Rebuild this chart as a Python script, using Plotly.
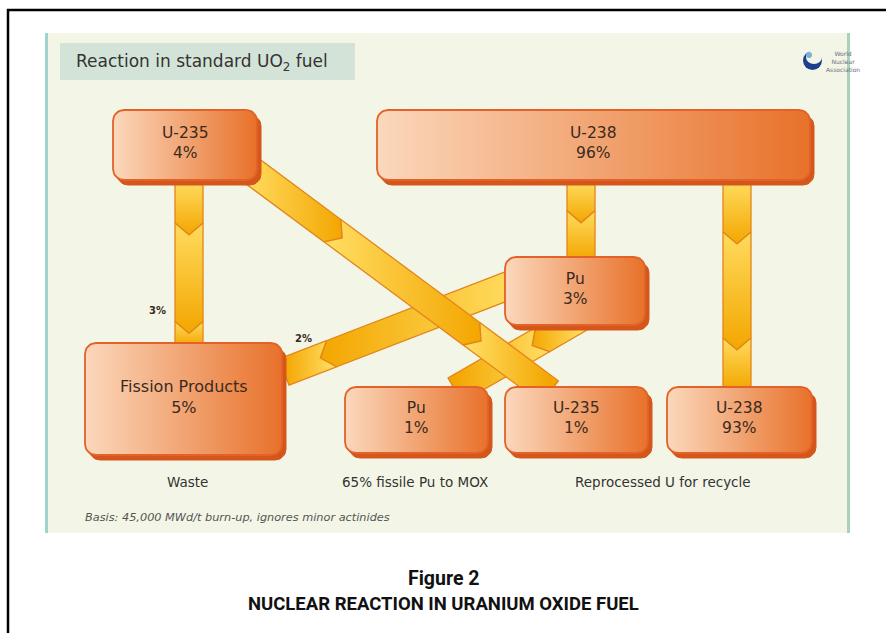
import numpy as np
import plotly.graph_objects as go

# ---------------- data ----------------
node_names = ["U-235", "U-238", "Pu", "Fission Products", "Pu", "U-235", "U-238"]
node_pct = [4, 96, 3, 5, 1, 1, 93]
flow_source = [0, 1, 1, 2, 2, 0]
flow_target = [3, 2, 6, 3, 4, 5]
flow_label = ["3%", "", "", "2%", "", ""]
group_labels = ["Waste", "65% fissile Pu to MOX", "Reprocessed U for recycle"]
title_text = "Reaction in standard UO<sub>2</sub> fuel"
note_text = "Basis: 45,000 MWd/t burn-up, ignores minor actinides"
caption_lines = ["Figure 2", "NUCLEAR REACTION IN URANIUM OXIDE FUEL"]
logo_text = "World<br>Nuclear<br>Association"

# ---------------- layout geometry (pixels) ----------------
W, H = 886, 633
box_rects = [(113, 110, 257, 180), (377, 110, 810, 180), (505, 257, 645, 325),
             (85, 343, 282, 455), (345, 387, 488, 453), (505, 387, 648, 453),
             (667, 387, 812, 453)]
box_font = [15.5, 15.5, 15.5, 16, 15.5, 15.5, 15.5]
flow_paths = [((189, 182), (189, 346)), ((581, 182), (581, 260)), ((737, 182), (737, 390)),
              ((510, 285), (284, 372)), ((580, 318), (455, 390)), ((248, 168), (550, 392))]
flow_chevrons = [[0.25, 0.85], [0.37], [0.24, 0.75], [0.79], [0.30], [0.28, 0.74]]
flow_label_pos = [(157, 310), None, None, (303, 338), None, None]
group_label_x = [187, 415, 663]
group_label_y = 482

BAND_W = 14
TIP = 12
LIGHT_Y, DEEP_Y = "#ffdb5e", "#f3a600"
BAND_EDGE = "#e3861a"
BOX_L, BOX_R = "#fbd8bc", "#e8712a"
BOX_EDGE, BOX_SHADOW = "#e2622a", "#d5561b"
FONT = "DejaVu Sans, Verdana, sans-serif"

fig = go.Figure()


def rrect(x0, y0, x1, y1, r, n=9):
    xs, ys = [], []
    corners = [(x1 - r, y0 + r, -90, 0), (x1 - r, y1 - r, 0, 90),
               (x0 + r, y1 - r, 90, 180), (x0 + r, y0 + r, 180, 270)]
    for cx, cy, a0, a1 in corners:
        t = np.radians(np.linspace(a0, a1, n))
        xs += list(cx + r * np.cos(t))
        ys += list(cy + r * np.sin(t))
    xs.append(xs[0]); ys.append(ys[0])
    return xs, ys


# ---- bands (flows) ----
for (p0, p1), chev in zip(flow_paths, flow_chevrons):
    p0 = np.array(p0, float); p1 = np.array(p1, float)
    L = np.linalg.norm(p1 - p0)
    u = (p1 - p0) / L
    nrm = np.array([-u[1], u[0]])
    P = lambda s, off: p0 + u * s + nrm * off
    cuts = [0.0] + [c * L for c in chev] + [L]
    for i in range(len(cuts) - 1):
        s0, s1 = cuts[i], cuts[i + 1]
        notch = i > 0
        tip = i < len(cuts) - 2
        pts = [P(s0, BAND_W), P(s0 + TIP, 0) if notch else P(s0, 0), P(s0, -BAND_W),
               P(s1, -BAND_W), P(s1 + TIP, 0) if tip else P(s1, 0), P(s1, BAND_W)]
        pts.append(pts[0])
        xs = [p[0] for p in pts]; ys = [p[1] for p in pts]
        a, b = P(s0, 0), P(s1 + (TIP if tip else 0), 0)
        if abs(u[0]) > abs(u[1]):
            gtype, st, sp = "horizontal", a[0], b[0]
        else:
            gtype, st, sp = "vertical", a[1], b[1]
        cs = [[0, LIGHT_Y], [1, DEEP_Y]]
        if st > sp:
            st, sp = sp, st
            cs = [[0, DEEP_Y], [1, LIGHT_Y]]
        fig.add_trace(go.Scatter(x=xs, y=ys, mode="lines", fill="toself",
                                 fillgradient=dict(type=gtype, colorscale=cs, start=st, stop=sp),
                                 line=dict(color=BAND_EDGE, width=1.3),
                                 hoverinfo="skip", showlegend=False))

# ---- boxes ----
for (x0, y0, x1, y1) in box_rects:
    sx, sy = rrect(x0 + 4, y0 + 5, x1 + 4, y1 + 5, 11)
    fig.add_trace(go.Scatter(x=sx, y=sy, mode="lines", fill="toself", fillcolor=BOX_SHADOW,
                             line=dict(color=BOX_SHADOW, width=1), hoverinfo="skip", showlegend=False))
    bx, by = rrect(x0, y0, x1, y1, 11)
    fig.add_trace(go.Scatter(x=bx, y=by, mode="lines", fill="toself",
                             fillgradient=dict(type="horizontal", colorscale=[[0, BOX_L], [1, BOX_R]]),
                             line=dict(color=BOX_EDGE, width=1.8), hoverinfo="skip", showlegend=False))

annotations = []
for name, pct, (x0, y0, x1, y1), fs in zip(node_names, node_pct, box_rects, box_font):
    annotations.append(dict(x=(x0 + x1) / 2, y=(y0 + y1) / 2 - 2, text=f"{name}<br>{pct}%",
                            showarrow=False, font=dict(family=FONT, size=fs, color="#3a2a1e"),
                            xanchor="center", yanchor="middle"))
for lab, pos in zip(flow_label, flow_label_pos):
    if lab and pos:
        annotations.append(dict(x=pos[0], y=pos[1], text=f"<b>{lab}</b>", showarrow=False,
                                font=dict(family=FONT, size=10, color="#3a2a1e")))
for lab, gx in zip(group_labels, group_label_x):
    annotations.append(dict(x=gx, y=group_label_y, text=lab, showarrow=False,
                            font=dict(family=FONT, size=13.5, color="#333333")))
annotations.append(dict(x=83, y=517, text=f"<i>{note_text}</i>", showarrow=False, xanchor="left",
                        font=dict(family=FONT, size=11.3, color="#555555")))
annotations.append(dict(x=74, y=62, text=title_text, showarrow=False, xanchor="left",
                        font=dict(family=FONT, size=17, color="#333333")))
annotations.append(dict(x=824, y=61, text=logo_text, showarrow=False, xanchor="left",
                        font=dict(family=FONT, size=6, color="#6a7080")))
cap_font = "Roboto, Lato, sans-serif"
annotations.append(dict(x=443, y=578, text=f"<b>{caption_lines[0]}</b>", showarrow=False,
                        font=dict(family=cap_font, size=19.5, color="#111111")))
annotations.append(dict(x=443, y=604, text=f"<b>{caption_lines[1]}</b>", showarrow=False,
                        font=dict(family=cap_font, size=18.5, color="#111111")))

shapes = [
    dict(type="rect", x0=45, y0=33, x1=850, y1=533, fillcolor="#f3f6e6", line=dict(width=0), layer="below"),
    dict(type="rect", x0=45, y0=33, x1=48, y1=533, fillcolor="#9fd3cc", line=dict(width=0), layer="below"),
    dict(type="rect", x0=847, y0=33, x1=850, y1=533, fillcolor="#a9d2b9", line=dict(width=0), layer="below"),
    dict(type="rect", x0=60, y0=43, x1=355, y1=80, fillcolor="#d4e3d8", line=dict(width=0), layer="below"),
    dict(type="line", x0=7, y0=10, x1=886, y1=10, line=dict(color="#000000", width=2.5)),
    dict(type="line", x0=8, y0=9, x1=8, y1=633, line=dict(color="#000000", width=2.5)),
    dict(type="circle", x0=803, y0=51, x1=822, y1=70, fillcolor="#1d3f8c", line=dict(width=0)),
    dict(type="circle", x0=806, y0=50, x1=822, y1=64, fillcolor="#f3f6e6", line=dict(width=0)),
    dict(type="circle", x0=806, y0=52, x1=812, y1=58, fillcolor="#7fb0d8", line=dict(width=0)),
]

fig.update_layout(
    width=W, height=H, margin=dict(l=0, r=0, t=0, b=0),
    paper_bgcolor="white", plot_bgcolor="white",
    xaxis=dict(range=[0, W], visible=False, fixedrange=True),
    yaxis=dict(range=[H, 0], visible=False, fixedrange=True),
    shapes=shapes, annotations=annotations, showlegend=False,
)
fig.write_html("out.html", config={"displayModeBar": False},
               post_script="document.body.style.margin='0px';document.body.style.padding='0px';")
